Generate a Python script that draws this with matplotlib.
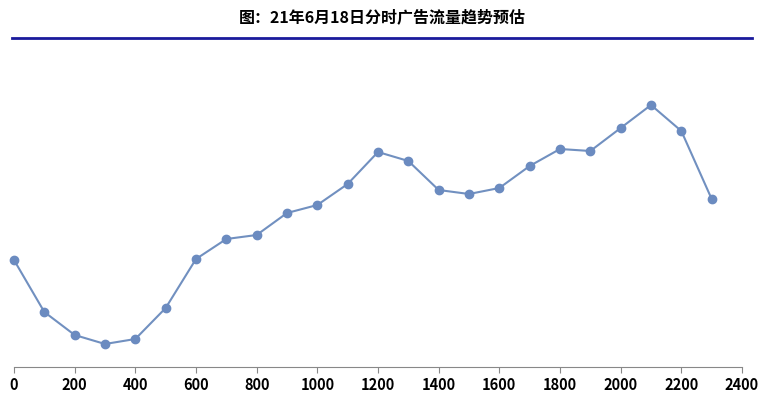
import matplotlib
matplotlib.use("Agg")
import matplotlib.pyplot as plt
from matplotlib.lines import Line2D

plt.rcParams['font.family'] = ['Noto Sans CJK SC', 'DejaVu Sans']

times = list(range(0, 2400, 100))
traffic = [107, 55, 32, 23, 28, 59, 108, 128, 132, 154, 162, 183, 215, 206, 177, 173, 179, 201, 218, 216, 239, 262, 236, 168]
xticks = list(range(0, 2600, 200))

fig = plt.figure(figsize=(7.65, 4.18), dpi=100)
ax = fig.add_axes([14/765, 1-367/418, 728/765, 307/418])
ax.plot(times, traffic, color='#7190c0', lw=1.5, marker='o', ms=6, mfc='#6b8bc0', mec='#6b8bc0')
ax.set_xlim(0, 2400)
ax.set_ylim(0, 307)
ax.set_xticks(xticks)
ax.tick_params(axis='x', labelsize=10.5, length=4, color='#888888')
for lab in ax.get_xticklabels():
    lab.set_fontweight('bold')
ax.set_yticks([])
for s in ['top', 'right', 'left']:
    ax.spines[s].set_visible(False)
ax.spines['bottom'].set_color('#888888')
ax.set_clip_on(False)
for l in ax.lines:
    l.set_clip_on(False)

fig.text(0.5, 1-17/418, '图：21年6月18日分时广告流量趋势预估', ha='center', va='center', fontsize=11.5, fontweight='bold')
fig.add_artist(Line2D([12/765, 752/765], [1-38/418, 1-38/418], color='#1a1a9c', lw=2))
fig.savefig('out.png', dpi=100)
